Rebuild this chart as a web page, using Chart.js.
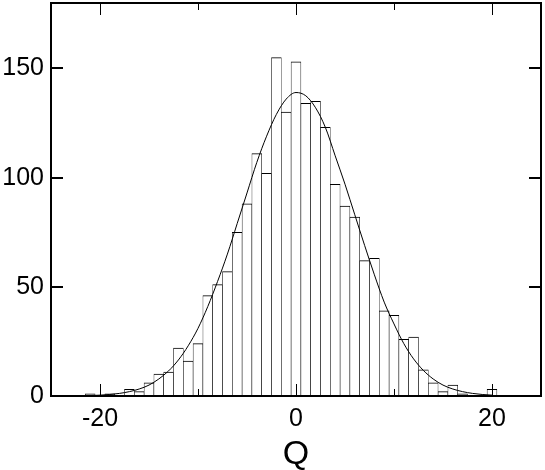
<!DOCTYPE html>
<html>
<head>
<meta charset="utf-8">
<script src="https://cdn.jsdelivr.net/npm/chart.js@4/dist/chart.umd.min.js"></script>
<style>
  html, body { margin: 0; padding: 0; background: #fff; }
  #wrap { width: 545px; height: 470px; }
</style>
</head>
<body>
<div id="wrap"><canvas id="hist"></canvas></div>
<script>
// histogram bins (bin centres, width 1) and counts
const bins = [-21, -20, -19, -18, -17, -16, -15, -14, -13, -12, -11, -10, -9, -8, -7, -6, -5, -4, -3, -2, -1,
              0, 1, 2, 3, 4, 5, 6, 7, 8, 9, 10, 11, 12, 13, 14, 15, 16, 17, 18, 19, 20];
const counts = [1, 0, 1, 0, 3, 2, 6, 10, 11, 22, 16, 24, 46, 51, 57, 75, 88, 111, 102, 155, 130,
                153, 134, 135, 123, 97, 87, 82, 62, 63, 39, 37, 26, 27, 12, 6, 2, 5, 1, 0, 0, 3];

// fitted curve
const fitX = [-21, -20, -19, -18, -17, -16, -15, -14, -13, -12, -11, -10, -9, -8, -7, -6, -5, -4, -3, -2, -1,
              0, 1, 2, 3, 4, 5, 6, 7, 8, 9, 10, 11, 12, 13, 14, 15, 16, 17, 18, 19, 20];
const fitY = [0.2, 0.4, 0.7, 1.2, 2, 3.2, 5, 7.8, 11.5, 16.5, 23, 31, 41, 52.5, 65, 79, 93, 107, 119, 129, 136,
              139, 137.5, 132, 123, 110, 97, 83, 69, 55.5, 43, 33, 24, 17, 11.7, 7.8, 5, 3.2, 2, 1.2, 0.7, 0.4];

const yTicks = [0, 50, 100, 150];
const xTicks = [-20, 0, 20];
const xMinorTicks = [-10, 10];

// box round the plot with inward tick marks
const framePlugin = {
    id: 'frame',
    afterDatasetsDraw(chart) {
        const { ctx, chartArea: a, scales: { x, y } } = chart;
        ctx.save();
        ctx.strokeStyle = '#000';

        ctx.lineWidth = 2;
        ctx.beginPath();
        yTicks.forEach(v => {
            if (v === 0) return;
            const py = Math.round(y.getPixelForValue(v));
            ctx.moveTo(a.left, py);
            ctx.lineTo(a.left + 12, py);
            ctx.moveTo(a.right, py);
            ctx.lineTo(a.right - 12, py);
        });
        ctx.stroke();

        ctx.lineWidth = 1;
        ctx.beginPath();
        const xTick = (v, len) => {
            const px = Math.round(x.getPixelForValue(v)) + 0.5;
            ctx.moveTo(px, a.bottom);
            ctx.lineTo(px, a.bottom - len);
            ctx.moveTo(px, a.top);
            ctx.lineTo(px, a.top + len);
        };
        xTicks.forEach(v => xTick(v, 12));
        xMinorTicks.forEach(v => xTick(v, 7));
        ctx.stroke();

        ctx.lineWidth = 2;
        ctx.strokeRect(a.left, a.top, a.right - a.left, a.bottom - a.top);
        ctx.restore();
    }
};

Chart.defaults.font.family = "'Liberation Sans', Arial, sans-serif";
Chart.defaults.color = '#000';

const ctx = document.getElementById('hist').getContext('2d');
const chart = new Chart(ctx, {
    type: 'bar',
    data: {
        datasets: [
            {
                type: 'line',
                data: fitX.map((v, i) => ({ x: v, y: fitY[i] })),
                borderColor: '#000',
                borderWidth: 1,
                pointRadius: 0,
                cubicInterpolationMode: 'monotone',
                fill: false,
                order: 0
            },
            {
                type: 'bar',
                data: bins.map((v, i) => ({ x: v, y: counts[i] })),
                backgroundColor: '#fff',
                borderColor: '#000',
                borderWidth: { top: 1, left: 0.6, right: 0.6, bottom: 0 },
                borderSkipped: false,
                barPercentage: 1,
                categoryPercentage: 1,
                grouped: false,
                order: 1
            }
        ]
    },
    options: {
        responsive: true,
        maintainAspectRatio: false,
        animation: false,
        layout: { padding: { top: 3, right: 4, left: 0, bottom: 0 } },
        plugins: { legend: { display: false }, tooltip: { enabled: false } },
        scales: {
            x: {
                type: 'linear',
                min: -25,
                max: 25,
                offset: false,
                grid: { display: false },
                border: { display: false },
                afterBuildTicks: s => { s.ticks = xTicks.map(v => ({ value: v })); },
                afterFit: s => { s.height = 74; s.paddingLeft = 0; s.paddingRight = 0; },
                ticks: { font: { size: 25 }, padding: 0, maxRotation: 0, autoSkip: false },
                title: { display: true, text: 'Q', font: { size: 34, lineHeight: 0.9 }, padding: 0 }
            },
            y: {
                min: 0,
                max: 180,
                grid: { display: false },
                border: { display: false },
                afterBuildTicks: s => { s.ticks = yTicks.map(v => ({ value: v })); },
                afterFit: s => { s.width = 51; s.paddingTop = 0; s.paddingBottom = 0; },
                ticks: { font: { size: 25 }, padding: -1 }
            }
        }
    },
    plugins: [framePlugin]
});
</script>
</body>
</html>
